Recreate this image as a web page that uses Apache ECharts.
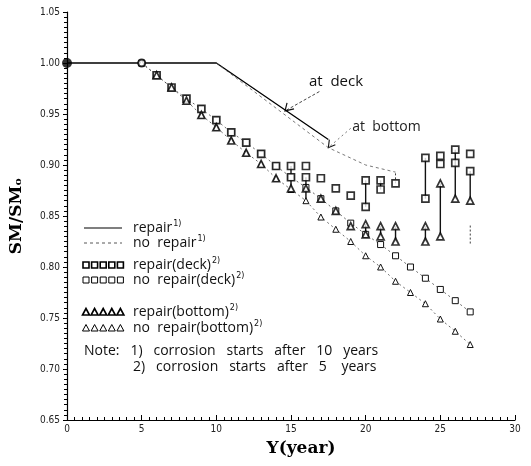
<!DOCTYPE html>
<html>
<head>
<meta charset="utf-8">
<script src="https://cdn.jsdelivr.net/npm/echarts@6/dist/echarts.min.js"></script>
<style>
  html, body { margin: 0; padding: 0; background: #fff; }
  #chart { width: 531px; height: 466px; }
</style>
</head>
<body>
<div id="chart"></div>
<script>
// 数据 (year, SM/SMo)
var xTicks = [0, 5, 10, 15, 20, 25, 30]
var yTicks = [0.65, 0.70, 0.75, 0.80, 0.85, 0.90, 0.95, 1.00, 1.05]

var startPoints = [[0, 1.0]]
var kneePoints = [[5, 1.0]]

// corrosion after 10 years: lines
var repairLine = [[0, 1.0], [10, 1.0], [17.5, 0.925]]
var noRepairLine = [[10, 1.0], [17.5, 0.917], [20, 0.900], [22, 0.893]]

// corrosion after 5 years: markers
var noRepairDeck = [[5, 1.0], [6, 0.988], [7, 0.976], [8, 0.965], [9, 0.955], [10, 0.944], [11, 0.932], [12, 0.922], [13, 0.911], [14, 0.899], [15, 0.888], [16, 0.878], [17, 0.867], [18, 0.855], [19, 0.843], [20, 0.832], [21, 0.822], [22, 0.811], [23, 0.800], [24, 0.789], [25, 0.778], [26, 0.767], [27, 0.756]]
var noRepairBottom = [[5, 1.0], [6, 0.988], [7, 0.976], [8, 0.963], [9, 0.949], [10, 0.937], [11, 0.924], [12, 0.912], [13, 0.901], [14, 0.887], [15, 0.876], [16, 0.865], [17, 0.849], [18, 0.837], [19, 0.825], [20, 0.811], [21, 0.800], [22, 0.786], [23, 0.775], [24, 0.764], [25, 0.749], [26, 0.737], [27, 0.724]]
var repairDeck = [[6, 0.988], [7, 0.976], [8, 0.965], [9, 0.955], [10, 0.944], [11, 0.932], [12, 0.922], [13, 0.911], [14, 0.899], [15, 0.899], [15, 0.888], [16, 0.899], [16, 0.888], [17, 0.887], [18, 0.877], [19, 0.870], [20, 0.885], [20, 0.859], [21, 0.885], [21, 0.876], [22, 0.882], [24, 0.907], [24, 0.867], [25, 0.909], [25, 0.901], [26, 0.915], [26, 0.902], [27, 0.911], [27, 0.894]]
var repairBottom = [[6, 0.988], [7, 0.976], [8, 0.963], [9, 0.949], [10, 0.937], [11, 0.924], [12, 0.912], [13, 0.901], [14, 0.887], [15, 0.877], [16, 0.877], [17, 0.867], [18, 0.855], [19, 0.840], [20, 0.842], [20, 0.832], [21, 0.840], [21, 0.830], [22, 0.840], [22, 0.825], [24, 0.840], [24, 0.825], [25, 0.882], [25, 0.830], [26, 0.867], [27, 0.865]]

// repair jumps: [year, from, to]
var repairJumps = [[15, 0.877, 0.899], [16, 0.865, 0.888], [20, 0.859, 0.885], [20, 0.832, 0.842], [21, 0.876, 0.885], [21, 0.830, 0.840], [22, 0.825, 0.840], [24, 0.867, 0.907], [24, 0.825, 0.840], [25, 0.830, 0.882], [26, 0.867, 0.915], [27, 0.865, 0.894]]
var dashedJumps = [[27, 0.823, 0.842], [22, 0.882, 0.893]]

var chart = echarts.init(document.getElementById('chart'))

function jumpSeries(data, dashed) {
  return {
    type: 'custom',
    data: data,
    encode: { x: 0, y: [1, 2] },
    z: 3,
    renderItem: function (params, api) {
      var p1 = api.coord([api.value(0), api.value(1)])
      var p2 = api.coord([api.value(0), api.value(2)])
      return {
        type: 'line',
        shape: { x1: p1[0], y1: p1[1], x2: p2[0], y2: p2[1] },
        style: { stroke: '#111', lineWidth: dashed ? 0.8 : 1.4, lineDash: dashed ? [2, 2] : null }
      }
    }
  }
}

var tickFont = { color: '#222', fontSize: 10, fontFamily: 'Liberation Sans Narrow, DejaVu Sans Condensed, sans-serif' }

var option = {
  animation: false,
  backgroundColor: '#fff',
  grid: { left: 62, right: 16, top: 12, bottom: 46 },
  xAxis: {
    type: 'value',
    min: 0,
    max: 30,
    interval: 5,
    name: 'Y(year)',
    nameLocation: 'middle',
    nameGap: 20,
    nameTextStyle: { fontFamily: 'DejaVu Serif, serif', fontWeight: 'bold', fontSize: 17, color: '#000', padding: [0, 0, 0, 20] },
    axisLine: { lineStyle: { color: '#000', width: 1.2 } },
    axisTick: { inside: true, length: 5, lineStyle: { color: '#000' } },
    minorTick: { show: true, splitNumber: 10, length: 3, lineStyle: { color: '#000' } },
    axisLabel: Object.assign({ margin: 4 }, tickFont),
    splitLine: { show: false }
  },
  yAxis: {
    type: 'value',
    min: 0.65,
    max: 1.05,
    interval: 0.05,
    name: 'SM/SM\u2092',
    nameLocation: 'middle',
    nameGap: 42,
    nameRotate: 90,
    nameTextStyle: { fontFamily: 'DejaVu Serif, serif', fontWeight: 'bold', fontSize: 17, color: '#000' },
    axisLine: { lineStyle: { color: '#000', width: 1.2 } },
    axisTick: { length: 4, lineStyle: { color: '#000' } },
    minorTick: { show: true, splitNumber: 10, length: 3, lineStyle: { color: '#000' } },
    axisLabel: Object.assign({ margin: 7, formatter: function (v) { return v.toFixed(2) } }, tickFont),
    splitLine: { show: false }
  },
  series: [
    {
      name: 'repair',
      type: 'line',
      data: repairLine,
      symbol: 'none',
      lineStyle: { color: '#000', width: 1.3 }
    },
    {
      name: 'no repair',
      type: 'line',
      data: noRepairLine,
      symbol: 'none',
      lineStyle: { color: '#555', width: 0.8, type: [3, 3] }
    },
    {
      name: 'no repair(deck)',
      type: 'line',
      data: noRepairDeck,
      symbol: 'rect',
      symbolSize: 6,
      itemStyle: { color: '#fff', borderColor: '#111', borderWidth: 1 },
      lineStyle: { color: '#444', width: 0.8, type: [2, 3] },
      z: 4
    },
    {
      name: 'no repair(bottom)',
      type: 'line',
      data: noRepairBottom,
      symbol: 'triangle',
      symbolSize: 6,
      itemStyle: { color: '#fff', borderColor: '#111', borderWidth: 1 },
      lineStyle: { color: '#444', width: 0.8, type: [2, 3] },
      z: 4
    },
    jumpSeries(repairJumps, false),
    jumpSeries(dashedJumps, true),
    {
      name: 'repair(deck)',
      type: 'scatter',
      data: repairDeck,
      symbol: 'rect',
      symbolSize: 7,
      itemStyle: { color: '#fff', borderColor: '#000', borderWidth: 1.7 },
      z: 5
    },
    {
      name: 'repair(bottom)',
      type: 'scatter',
      data: repairBottom,
      symbol: 'triangle',
      symbolSize: 7,
      itemStyle: { color: '#fff', borderColor: '#000', borderWidth: 1.7 },
      z: 5
    },
    {
      type: 'scatter',
      data: startPoints,
      symbol: 'circle',
      symbolSize: 10,
      itemStyle: { color: '#000' },
      z: 6
    },
    {
      type: 'scatter',
      data: kneePoints,
      symbol: 'circle',
      symbolSize: 7,
      itemStyle: { color: '#fff', borderColor: '#000', borderWidth: 2 },
      z: 6
    }
  ]
}
chart.setOption(option)

// legend and notes drawn by hand
var legendFont = '14px "Open Sans", "DejaVu Sans", sans-serif'
function label(x, y, main, sup) {
  return {
    type: 'text', x: x, y: y,
    style: {
      text: '{a|' + main + '}{s|' + sup + '}',
      rich: {
        a: { font: legendFont, fill: '#111', lineHeight: 16 },
        s: { fontSize: 8, fontFamily: 'DejaVu Sans', fill: '#111', verticalAlign: 'top', lineHeight: 16, padding: [0, 0, 6, 1] }
      },
      verticalAlign: 'middle'
    }
  }
}
function markRow(y, kind, bold) {
  var els = []
  for (var i = 0; i < 5; i++) {
    var cx = 86 + i * 8.6
    if (kind === 'rect') {
      els.push({ type: 'rect', shape: { x: cx - 3, y: y - 3, width: 6, height: 6 }, style: { fill: '#fff', stroke: '#000', lineWidth: bold ? 1.6 : 1 } })
    } else {
      els.push({ type: 'polygon', shape: { points: [[cx, y - 3.5], [cx - 3.5, y + 3], [cx + 3.5, y + 3]] }, style: { fill: '#fff', stroke: '#000', lineWidth: bold ? 1.6 : 1 } })
    }
  }
  return els
}
var legendEls = [
  { type: 'line', shape: { x1: 84, y1: 228, x2: 122, y2: 228 }, style: { stroke: '#000', lineWidth: 1.2 } },
  label(133, 228, 'repair', '1)'),
  { type: 'line', shape: { x1: 84, y1: 243, x2: 122, y2: 243 }, style: { stroke: '#444', lineWidth: 0.9, lineDash: [3, 3] } },
  label(133, 243, 'no  repair', '1)'),
  label(133, 265, 'repair(deck)', '2)'),
  label(133, 280, 'no  repair(deck)', '2)'),
  label(133, 312, 'repair(bottom)', '2)'),
  label(133, 328, 'no  repair(bottom)', '2)'),
  { type: 'text', x: 84, y: 351, style: { text: 'Note:   1)   corrosion   starts   after   10   years', font: legendFont, fill: '#111', verticalAlign: 'middle' } },
  { type: 'text', x: 133, y: 367, style: { text: '2)   corrosion   starts   after   5    years', font: legendFont, fill: '#111', verticalAlign: 'middle' } }
]
  .concat(markRow(265, 'rect', true))
  .concat(markRow(280, 'rect', false))
  .concat(markRow(312, 'tri', true))
  .concat(markRow(328, 'tri', false))

// annotations placed in data coordinates
function px(pt) { return chart.convertToPixel({ gridIndex: 0 }, pt) }
var deckText = px([16.2, 0.982])
var deckFrom = px([16.9, 0.972])
var deckTo = px([14.6, 0.953])
var botText = px([19.1, 0.937])
var botFrom = px([19.0, 0.936])
var botTo = px([17.5, 0.917])
var annoEls = [
  { type: 'text', x: deckText[0], y: deckText[1], style: { text: 'at  deck', font: '15px "Open Sans", sans-serif', fill: '#111', verticalAlign: 'middle' } },
  { type: 'line', shape: { x1: deckFrom[0], y1: deckFrom[1], x2: deckTo[0], y2: deckTo[1] }, style: { stroke: '#333', lineWidth: 0.9, lineDash: [3, 2] } },
  { type: 'polyline', shape: { points: [[deckTo[0] + 2, deckTo[1] - 8], [deckTo[0], deckTo[1]], [deckTo[0] + 9, deckTo[1] - 2]] }, style: { stroke: '#111', lineWidth: 1.2, fill: null } },
  { type: 'text', x: botText[0], y: botText[1], style: { text: 'at  bottom', font: '14px "Open Sans", sans-serif', fill: '#222', verticalAlign: 'middle' } },
  { type: 'line', shape: { x1: botFrom[0], y1: botFrom[1], x2: botTo[0], y2: botTo[1] }, style: { stroke: '#555', lineWidth: 0.8, lineDash: [2, 3] } },
  { type: 'polyline', shape: { points: [[botTo[0] + 1, botTo[1] - 8], [botTo[0], botTo[1]], [botTo[0] + 7, botTo[1] - 3]] }, style: { stroke: '#111', lineWidth: 1.1, fill: null } }
]

chart.setOption({ graphic: legendEls.concat(annoEls) })
</script>
</body>
</html>
